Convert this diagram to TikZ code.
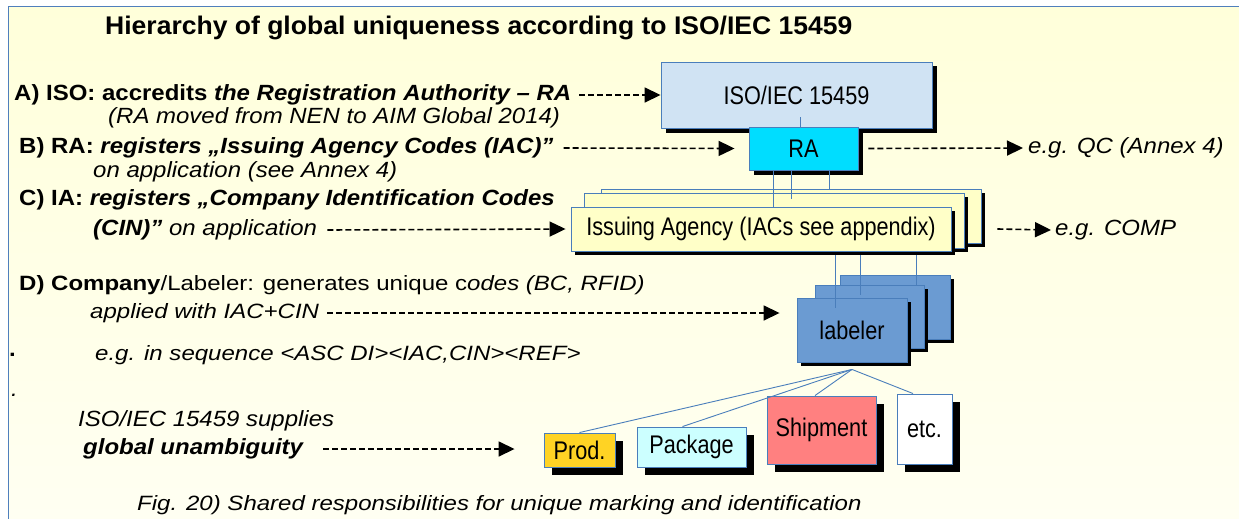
\documentclass[tikz,border=0pt]{standalone}
\usepackage{fontspec}
\setmainfont{Liberation Sans}
\newfontfamily\narrow[FakeStretch=0.85]{Liberation Sans}
\newfontfamily\wide[FakeStretch=1.09]{Liberation Sans}
\newfontfamily\wider[FakeStretch=1.16]{Liberation Sans}
\newfontfamily\titlefont[FakeStretch=1.04]{Liberation Sans}
\usetikzlibrary{arrows.meta}
\definecolor{bgA}{HTML}{FFFFDA}
\definecolor{bgB}{HTML}{FFFFF2}
\definecolor{frameblue}{HTML}{4F7FBC}
\definecolor{boxblue}{HTML}{4A7EBB}
\definecolor{isofill}{HTML}{D0E3F3}
\definecolor{rafill}{HTML}{00DDFF}
\definecolor{iafill}{HTML}{FFFFC8}
\definecolor{labfill}{HTML}{6B9BD2}
\definecolor{prodfill}{HTML}{FFD324}
\definecolor{pkgfill}{HTML}{CCFFFF}
\definecolor{shipfill}{HTML}{FF8080}
\begin{document}
\begin{tikzpicture}[x=1pt,y=-1pt,
  txt/.style={anchor=west, inner sep=0pt, font=\wide\fontsize{22}{26}\selectfont},
  ntxt/.style={anchor=west, inner sep=0pt, font=\wider\fontsize{20.7}{25}\selectfont},
  dasharr/.style={line width=1.6pt, dash pattern=on 6pt off 3pt, -{Triangle[length=16pt,width=15pt]}},
  conn/.style={draw=boxblue, line width=0.9pt},
  box/.style={draw=boxblue, line width=0.9pt, inner sep=0pt, font=\narrow\fontsize{25.5}{30}\selectfont},
  sh/.style={preaction={fill=black, transform canvas={shift={(#1pt,-#1pt)}}}},
]
\useasboundingbox (0,0) rectangle (1239,519);
\shade[top color=bgA, bottom color=bgB] (8,7) rectangle (1239,519);
\draw[frameblue, line width=1pt] (8,519) -- (8,7) -- (1239,7);

% title
\node[anchor=west, inner sep=0pt, font=\titlefont\bfseries\fontsize{25.5}{30}\selectfont] (title) at (105,28)
  {Hierarchy of global uniqueness according to ISO/IEC 15459};

% boxes
\node[box, sh=4.5, fill=isofill, minimum width=271pt, minimum height=66pt] (iso) at (796.5,95) {ISO/IEC 15459};
\node[box, sh=4.5, fill=rafill, minimum width=109pt, minimum height=43pt] (ra) at (803.5,148.5) {RA};

\node[box, sh=4, fill=iafill, minimum width=380pt, minimum height=54pt] (ia3) at (791,216) {};
\node[box, sh=4, fill=iafill, minimum width=380pt, minimum height=55pt] (ia2) at (774,220.5) {};
\coordinate (r1) at ([xshift=-30.5pt]ra.south);
\coordinate (r2) at ([xshift=-12.5pt]ra.south);
\coordinate (r3) at ([xshift=25.5pt]ra.south);
\draw[conn] (r2) -- (r2 |- ia2.north) -- ++(0,6);
\draw[conn] (r3) -- (r3 |- ia3.north);
\node[box, sh=4, fill=iafill, minimum width=380pt, minimum height=44pt] (ia) at (761,229) {Issuing Agency (IACs see appendix)};
\draw[conn] (r1) -- (r1 |- ia.north);

\node[box, sh=4, fill=labfill, minimum width=110pt, minimum height=64pt] (lab3) at (895,307) {};
\node[box, sh=4, fill=labfill, minimum width=109pt, minimum height=63pt] (lab2) at (869.5,316.5) {};
\node[box, sh=4, fill=labfill, minimum width=110pt, minimum height=64pt] (lab) at (852,330) {labeler};

\coordinate (l1) at (835,255);
\coordinate (l2) at (860,255);
\coordinate (l3) at (916,255);
\draw[conn] (l1) -- (l1 |- lab.north) -- ++(0,10);
\draw[conn] (l2) -- (l2 |- lab2.north) -- ++(0,10);
\draw[conn] (l3) -- (l3 |- lab3.north) -- ++(0,10);

\coordinate (ir) at ([xshift=-3.5pt]ra.north);
\draw[conn] (ir) -- ++(0,-10);

\node[box, sh=7.5, fill=prodfill, minimum width=71pt, minimum height=34pt] (prod) at (579.5,450) {Prod.};
\node[box, sh=7.5, fill=pkgfill, minimum width=109pt, minimum height=40pt] (pkg) at (691.5,447) {Package};
\node[box, sh=7.5, fill=shipfill, minimum width=109pt, minimum height=68pt] (ship) at (821.5,430) {Shipment};
\node[box, sh=7.5, fill=white, minimum width=55pt, minimum height=70pt] (etc) at (924.5,429) {etc.};

\coordinate (lj) at ([yshift=-7pt]lab.south);
\draw[conn] (lj) -- (prod.north);
\draw[conn] (lj) -- ([xshift=-9pt]pkg.north);
\draw[conn] (lj) -- ([xshift=-6.5pt]ship.north);
\draw[conn] (lj) -- ([xshift=-11.5pt]etc.north);

% left texts
\node[txt] (ta) at (14,95) {\bfseries A) ISO: accredits \textit{the Registration Authority – RA}};
\node[txt] (tam) at (108,118) {\itshape (RA moved from NEN to AIM Global 2014)};
\node[txt] (tb) at (19,148) {\bfseries B) RA: \textit{registers „Issuing Agency Codes (IAC)”}};
\node[txt] (tb2) at (93,172) {\itshape on application (see Annex 4)};
\node[txt] (tc) at (19,200) {\bfseries C) IA: \textit{registers „Company Identification Codes}};
\node[txt] (tc2) at (93,230) {\textbf{\textit{(CIN)”}} \textit{on application}};
\node[ntxt] (td) at (19,285) {\textbf{D) Company}/Labeler: generates unique c\textit{odes (BC, RFID)}};
\node[ntxt] (td2) at (90,313) {\itshape applied with IAC+CIN};
\node[ntxt] (td3) at (95,355) {\itshape e.g. in sequence <ASC DI><IAC,CIN><REF>};
\node[txt] (dot1) at (9,355) {\bfseries .};
\node[txt] (dot2) at (11,395) {\itshape .};
\node[txt] (tg) at (78,421) {\itshape ISO/IEC 15459 supplies};
\node[txt] (tg2) at (83,449) {\bfseries\itshape global unambiguity};
\node[ntxt] (cap) at (137,505) {\itshape Fig. 20) Shared responsibilities for unique marking and identification};

\node[txt] (qc) at (1028,148) {\itshape e.g. QC (Annex 4)};
\node[txt] (comp) at (1055,230) {\itshape e.g. COMP};

% dashed arrows
\coordinate (labw) at ([xshift=-17pt]lab.west);
\coordinate (prodw) at ([xshift=-29pt]prod.west);
\draw[dasharr] ([xshift=8pt]ta.east) -- (iso.west);
\draw[dasharr] ([xshift=10pt]tb.east) -- ([xshift=-14pt]ra.west);
\draw[dasharr] ([xshift=10pt]ra.east) -- ([xshift=-5pt]qc.west);
\draw[dasharr] ([xshift=10pt]tc2.east) -- ([xshift=-5pt]ia.west);
\draw[dasharr] ([xshift=46pt]ia.east) -- ([xshift=-4pt]comp.west);
\draw[dasharr] ([xshift=8pt]td2.east) -- (labw |- td2.east);
\draw[dasharr] ([xshift=20pt]tg2.east) -- (prodw |- tg2.east);
\end{tikzpicture}
\end{document}
